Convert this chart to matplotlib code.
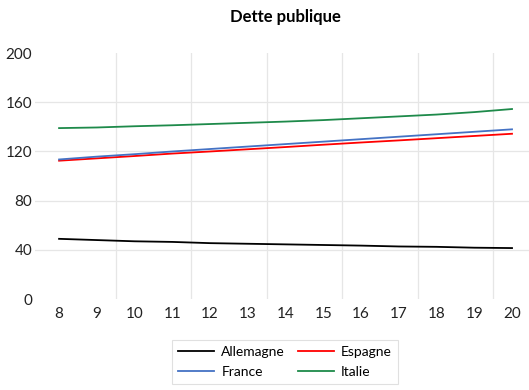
import matplotlib
matplotlib.use('Agg')
import matplotlib.pyplot as plt

# data
years = [8, 9, 10, 11, 12, 13, 14, 15, 16, 17, 18, 19, 20]
allemagne = [49.0, 48.0, 47.0, 46.5, 45.5, 45.0, 44.5, 44.0, 43.5, 42.8, 42.5, 41.8, 41.5]
espagne = [112.5, 114.4, 116.3, 118.3, 120.0, 121.8, 123.6, 125.5, 127.3, 129.0, 130.8, 132.6, 134.4]
france = [113.5, 115.8, 117.8, 120.0, 122.0, 124.0, 126.0, 128.0, 130.0, 132.0, 134.0, 136.0, 138.0]
italie = [139.0, 139.5, 140.5, 141.3, 142.3, 143.3, 144.3, 145.5, 147.0, 148.5, 150.0, 152.0, 154.5]
y_ticks = [0, 40, 80, 120, 160, 200]
v_grid = [9.5, 11.5, 13.5, 15.5, 17.5, 19.5]

plt.rcParams['font.family'] = ['Lato', 'DejaVu Sans']

fig = plt.figure(figsize=(5.29, 3.90), dpi=100)
ax = fig.add_axes([0.066, 0.233, 0.934, 0.631])

grid_col = '#e6e6e6'
for y in y_ticks[1:-1]:
    ax.axhline(y, color=grid_col, lw=0.9, zorder=0)
for x in v_grid:
    ax.axvline(x, color=grid_col, lw=0.9, zorder=0)

ax.plot(years, allemagne, color='black', lw=1.3, label='Allemagne')
ax.plot(years, espagne, color='#ff0000', lw=1.3, label='Espagne')
ax.plot(years, france, color='#4472c4', lw=1.3, label='France')
ax.plot(years, italie, color='#1e8a4a', lw=1.3, label='Italie')

ax.set_xlim(7.36, 20.45)
ax.set_ylim(0, 200)
ax.set_xticks(years)
ax.set_yticks(y_ticks)
ax.tick_params(length=0, labelsize=11, colors='#222222')
ax.tick_params(axis='y', pad=2)
ax.tick_params(axis='x', pad=6)
for s in ax.spines.values():
    s.set_visible(False)

handles, labels = ax.get_legend_handles_labels()
order = [0, 2, 1, 3]
leg = fig.legend([handles[i] for i in order], [labels[i] for i in order],
                 ncol=2, loc='center', bbox_to_anchor=(285 / 529, 1 - 362 / 390),
                 fontsize=10, frameon=True, fancybox=False, edgecolor='#d9d9d9',
                 handlelength=2.6, handletextpad=0.5, columnspacing=0.9,
                 labelspacing=0.55, borderpad=0.45)
leg.get_frame().set_linewidth(0.8)

fig.text(285 / 529, 1 - 17 / 390, 'Dette publique', ha='center', va='center',
         fontsize=12, fontweight='bold')

fig.savefig('out.png', dpi=100)
